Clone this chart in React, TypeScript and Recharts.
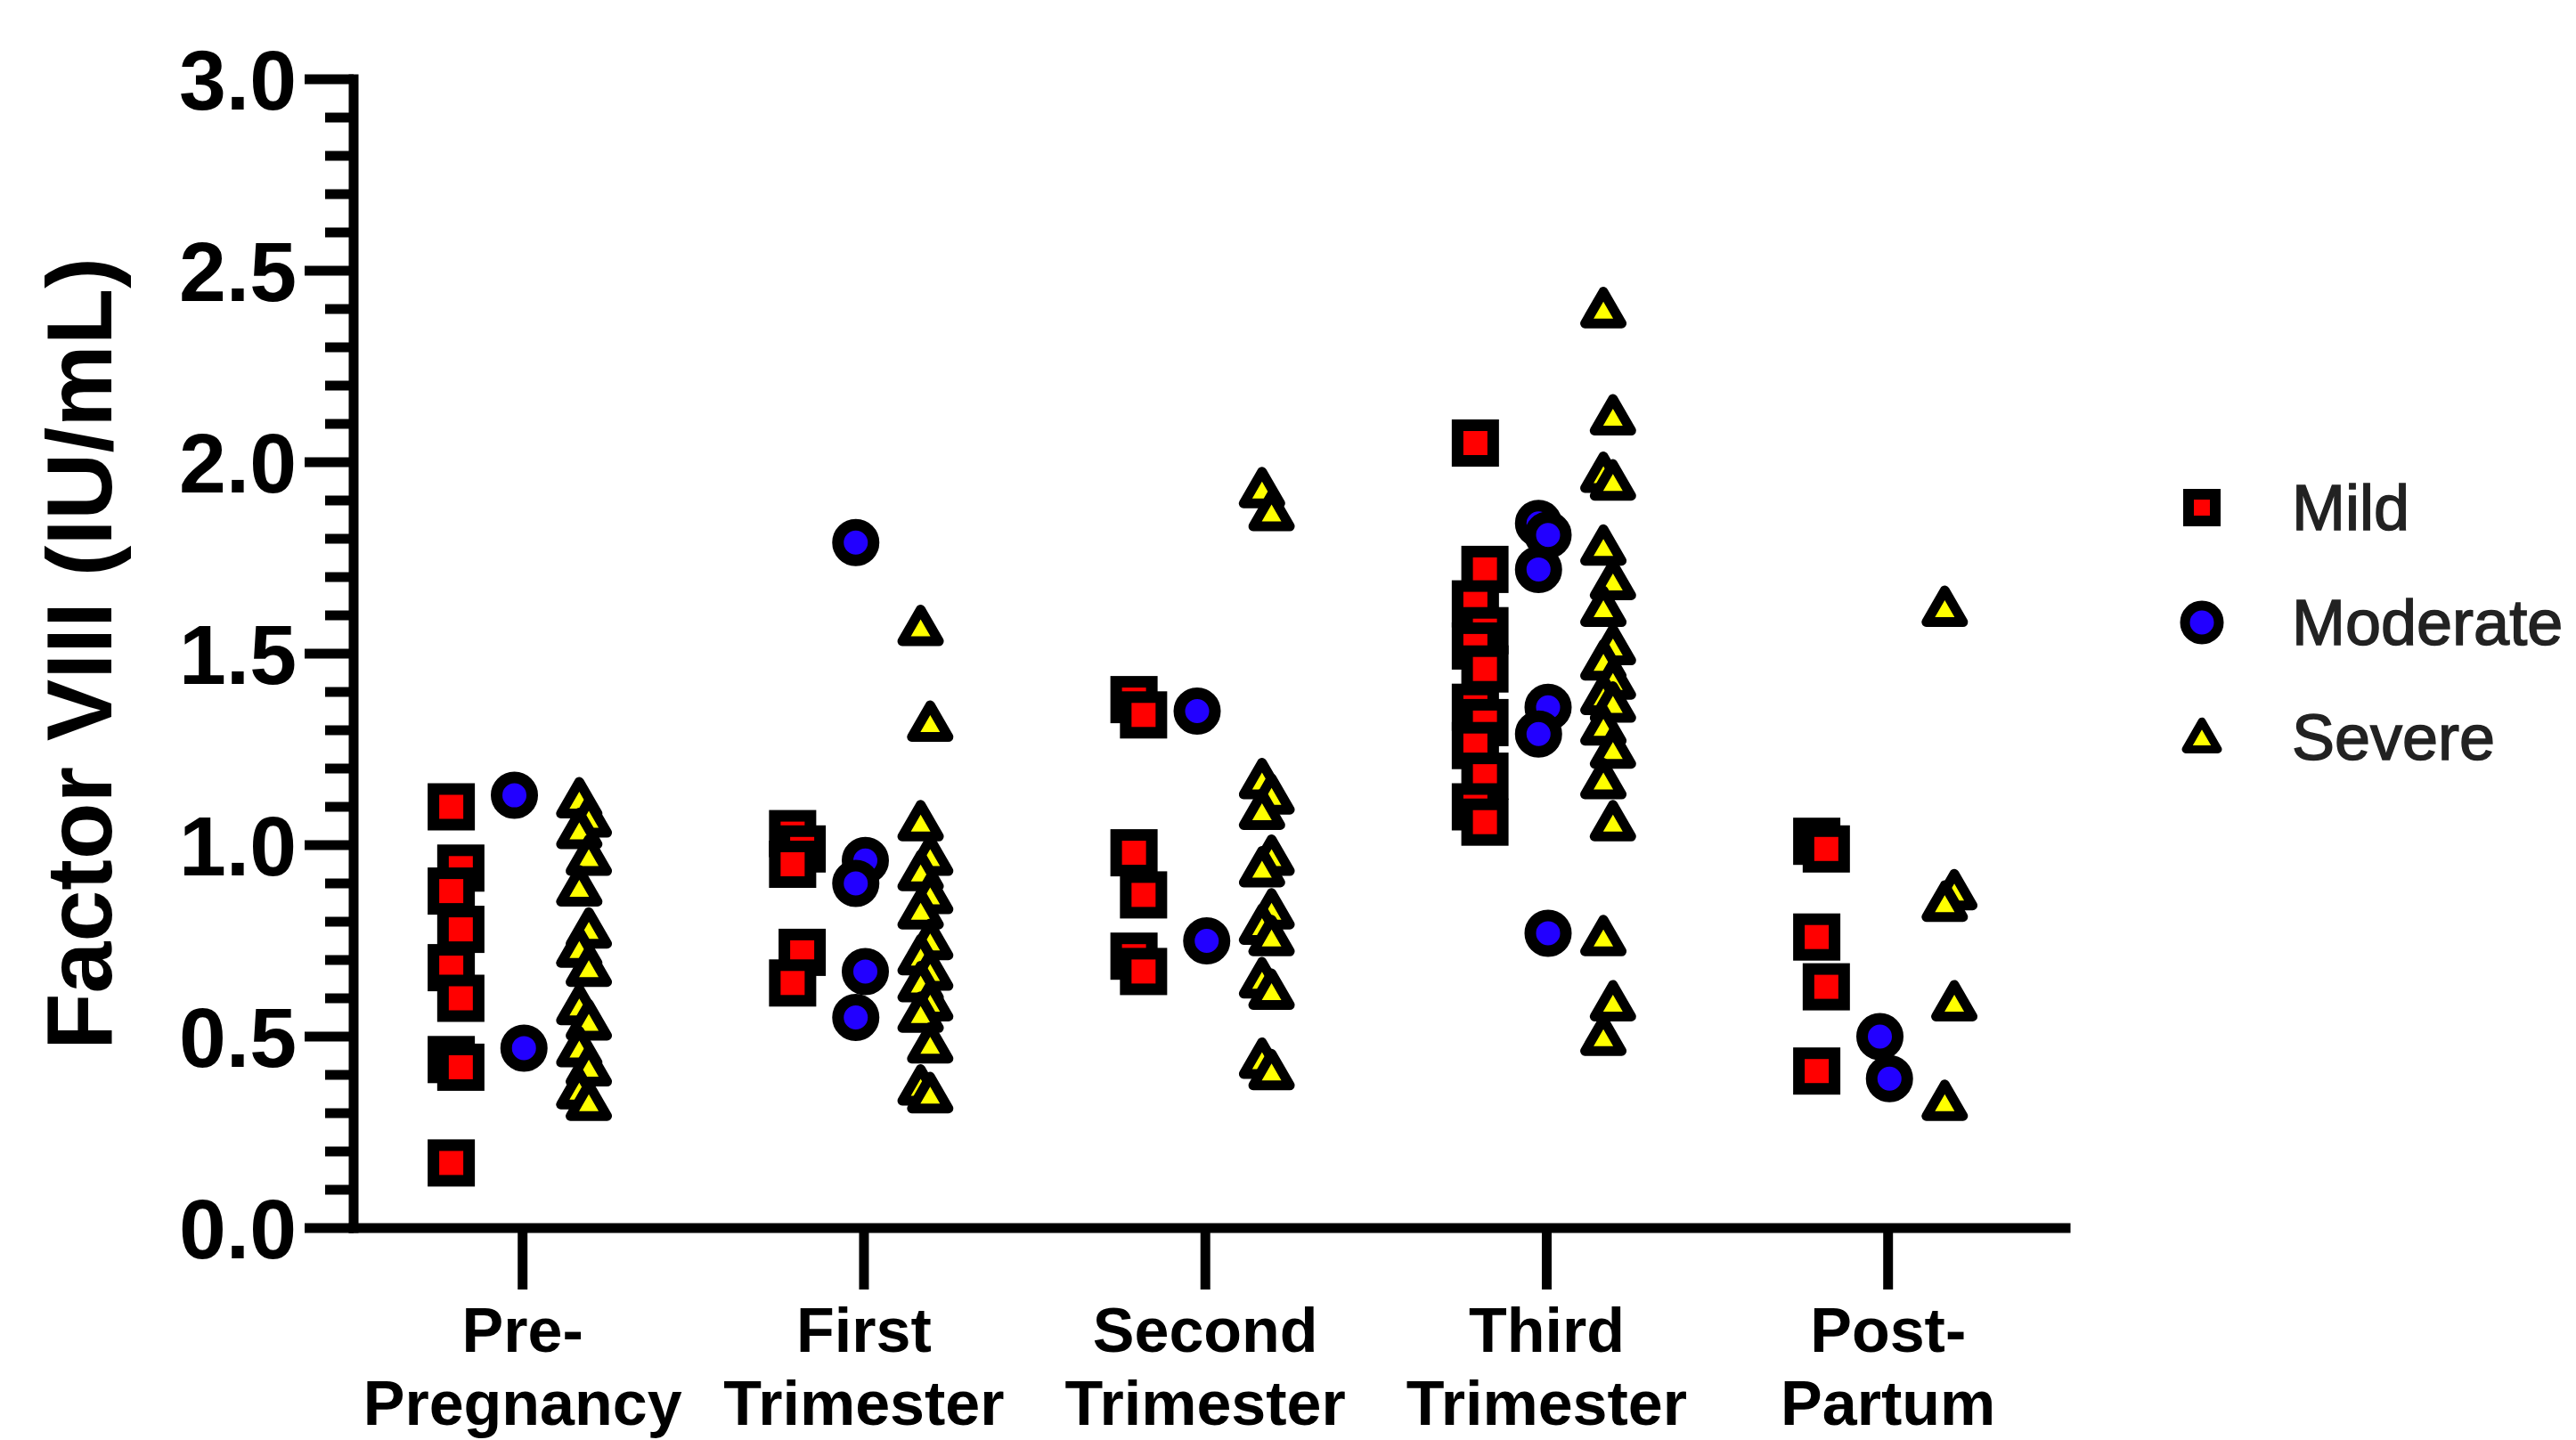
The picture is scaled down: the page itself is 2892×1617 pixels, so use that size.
import React from "react";
import { Label, Legend, Scatter, ScatterChart, XAxis, YAxis } from "recharts";

// phase labels, two lines each (x axis)
const phaseLabels = [
  ["Pre-", "Pregnancy"],
  ["First", "Trimester"],
  ["Second", "Trimester"],
  ["Third", "Trimester"],
  ["Post-", "Partum"],
];

const severityNames = ["Mild", "Moderate", "Severe"];

// Factor VIII values (IU/mL), one inner array per phase
const mild = [
  [1.1, 0.94, 0.88, 0.78, 0.68, 0.6, 0.44, 0.42, 0.17],
  [1.03, 0.99, 0.95, 0.72, 0.64],
  [1.38, 1.34, 0.98, 0.87, 0.71, 0.67],
  [2.05, 1.72, 1.63, 1.56, 1.52, 1.46, 1.36, 1.32, 1.26, 1.18, 1.1, 1.06],
  [1.01, 0.99, 0.76, 0.63, 0.41],
];

const moderate = [
  [1.13, 0.47],
  [1.79, 0.96, 0.9, 0.67, 0.55],
  [1.35, 0.75],
  [1.84, 1.81, 1.72, 1.36, 1.29, 0.77],
  [0.5, 0.39],
];

const severe = [
  [1.11, 1.06, 1.03, 0.96, 0.88, 0.77, 0.72, 0.67, 0.57, 0.53, 0.46, 0.41, 0.35, 0.32],
  [1.56, 1.31, 1.05, 0.96, 0.92, 0.86, 0.82, 0.74, 0.7, 0.66, 0.63, 0.58, 0.55, 0.47, 0.36, 0.34],
  [1.92, 1.86, 1.16, 1.12, 1.08, 0.96, 0.93, 0.82, 0.78, 0.75, 0.64, 0.61, 0.43, 0.4],
  [2.39, 2.11, 1.96, 1.94, 1.77, 1.68, 1.61, 1.51, 1.47, 1.42, 1.38, 1.36, 1.3, 1.24, 1.16, 1.05, 0.75, 0.58, 0.49],
  [1.61, 0.87, 0.84, 0.58, 0.32],
];

const yTicks = Array.from({ length: 31 }, (_, i) => i / 10);

const FONT = '"Liberation Sans", Arial, Helvetica, sans-serif';
const CHART_W = 2892;
const CHART_H = 1617;
const PLOT_LEFT = 397;
const PLOT_RIGHT = 2319;
const PLOT_TOP = 89;
const PLOT_BOTTOM = 1379;
const Y_AXIS_W = 300;
const X_AXIS_H = 200;
const AXIS_SW = 11;

const RED = "#ff0000";
const BLUE = "#2200ff";
const YELLOW = "#ffff00";

// horizontal placement of each severity column within a phase
const groupOffset = [-0.195, -0.01, 0.18];
const JITTER = 0.014;

function toPoints(groups: number[][], sev: number) {
  return groups.flatMap((vals, phase) =>
    vals.map((v, i) => ({
      x: phase + groupOffset[sev] + (i % 2 === 0 ? -JITTER : JITTER),
      y: v,
    }))
  );
}

const mildData = toPoints(mild, 0);
const moderateData = toPoints(moderate, 1);
const severeData = toPoints(severe, 2);

function SquareMark({ cx, cy, size = 40, sw = 13 }: any) {
  return (
    <rect
      x={cx - size / 2}
      y={cy - size / 2}
      width={size}
      height={size}
      fill={RED}
      stroke="#000"
      strokeWidth={sw}
    />
  );
}

function CircleMark({ cx, cy, r = 20, sw = 13 }: any) {
  return <circle cx={cx} cy={cy} r={r} fill={BLUE} stroke="#000" strokeWidth={sw} />;
}

function TriangleMark({ cx, cy, side = 41, sw = 11 }: any) {
  const h = (side * Math.sqrt(3)) / 2;
  const pts = [
    [cx, cy - (2 * h) / 3],
    [cx - side / 2, cy + h / 3],
    [cx + side / 2, cy + h / 3],
  ]
    .map((p) => p.join(","))
    .join(" ");
  return (
    <polygon points={pts} fill={YELLOW} stroke="#000" strokeWidth={sw} strokeLinejoin="round" />
  );
}

const YTick = (props: any) => {
  const { y, payload } = props;
  const v = payload.value;
  const major = Math.round(v * 10) % 5 === 0;
  const len = major ? 55 : 32;
  return (
    <g>
      <line x1={PLOT_LEFT - len} x2={PLOT_LEFT} y1={y} y2={y} stroke="#000" strokeWidth={AXIS_SW} />
      {major && (
        <text
          x={PLOT_LEFT - 64}
          y={y}
          dy="0.36em"
          textAnchor="end"
          fontFamily={FONT}
          fontWeight="bold"
          fontSize={95}
          fill="#000"
        >
          {v.toFixed(1)}
        </text>
      )}
    </g>
  );
};

const XTick = (props: any) => {
  const { x, payload } = props;
  const lines = phaseLabels[payload.value] || ["", ""];
  return (
    <g>
      <line x1={x} x2={x} y1={PLOT_BOTTOM} y2={PLOT_BOTTOM + 69} stroke="#000" strokeWidth={AXIS_SW} />
      <text textAnchor="middle" fontFamily={FONT} fontWeight="bold" fontSize={70} fill="#000">
        <tspan x={x} y={PLOT_BOTTOM + 139}>
          {lines[0]}
        </tspan>
        <tspan x={x} y={PLOT_BOTTOM + 221}>
          {lines[1]}
        </tspan>
      </text>
    </g>
  );
};

const renderYTitle = () => {
  const cx = 125;
  const cy = (PLOT_TOP + PLOT_BOTTOM) / 2;
  return (
    <text
      x={cx}
      y={cy}
      transform={`rotate(-90, ${cx}, ${cy})`}
      textAnchor="middle"
      fontFamily={FONT}
      fontWeight="bold"
      fontSize={104}
      fill="#000"
    >
      Factor VIII (IU/mL)
    </text>
  );
};

const legendIcon = (i: number) => {
  if (i === 0) return <SquareMark cx={30} cy={30} size={30} sw={12} />;
  if (i === 1) return <CircleMark cx={30} cy={30} r={19} sw={11} />;
  return <TriangleMark cx={30} cy={33} side={36} sw={9} />;
};

const renderLegend = () => (
  <div
    style={{
      fontFamily: FONT,
      fontSize: 72,
      color: "#222",
      WebkitTextStroke: "1.5px #222",
    }}
  >
    {severityNames.map((name, i) => (
      <div key={name} style={{ display: "flex", alignItems: "center", height: 129 }}>
        <svg width={60} height={60}>
          {legendIcon(i)}
        </svg>
        <span style={{ marginLeft: 71, lineHeight: 1 }}>{name}</span>
      </div>
    ))}
  </div>
);

export default function App() {
  return (
    <div style={{ position: "absolute", left: 0, top: 0, background: "#fff" }}>
      <ScatterChart
        width={CHART_W}
        height={CHART_H}
        margin={{
          top: PLOT_TOP,
          right: CHART_W - PLOT_RIGHT,
          bottom: CHART_H - PLOT_BOTTOM - X_AXIS_H,
          left: PLOT_LEFT - Y_AXIS_W,
        }}
      >
        <XAxis
          type="number"
          dataKey="x"
          domain={[-0.495, 4.52]}
          ticks={[0, 1, 2, 3, 4]}
          interval={0}
          height={X_AXIS_H}
          tickLine={false}
          axisLine={{ stroke: "#000", strokeWidth: AXIS_SW, strokeLinecap: "square" }}
          tick={<XTick />}
        />
        <YAxis
          type="number"
          dataKey="y"
          domain={[0, 3]}
          ticks={yTicks}
          interval={0}
          width={Y_AXIS_W}
          tickLine={false}
          axisLine={{ stroke: "#000", strokeWidth: AXIS_SW, strokeLinecap: "square" }}
          tick={<YTick />}
        >
          <Label content={renderYTitle} />
        </YAxis>
        <Legend
          layout="horizontal"
          align="center"
          verticalAlign="middle"
          content={renderLegend}
          wrapperStyle={{ left: 2442, top: 505, width: 450 }}
        />
        <Scatter
          name="Mild"
          data={mildData}
          isAnimationActive={false}
          shape={(p: any) => <SquareMark cx={p.cx} cy={p.cy} />}
        />
        <Scatter
          name="Moderate"
          data={moderateData}
          isAnimationActive={false}
          shape={(p: any) => <CircleMark cx={p.cx} cy={p.cy} />}
        />
        <Scatter
          name="Severe"
          data={severeData}
          isAnimationActive={false}
          shape={(p: any) => <TriangleMark cx={p.cx} cy={p.cy} />}
        />
      </ScatterChart>
    </div>
  );
}
